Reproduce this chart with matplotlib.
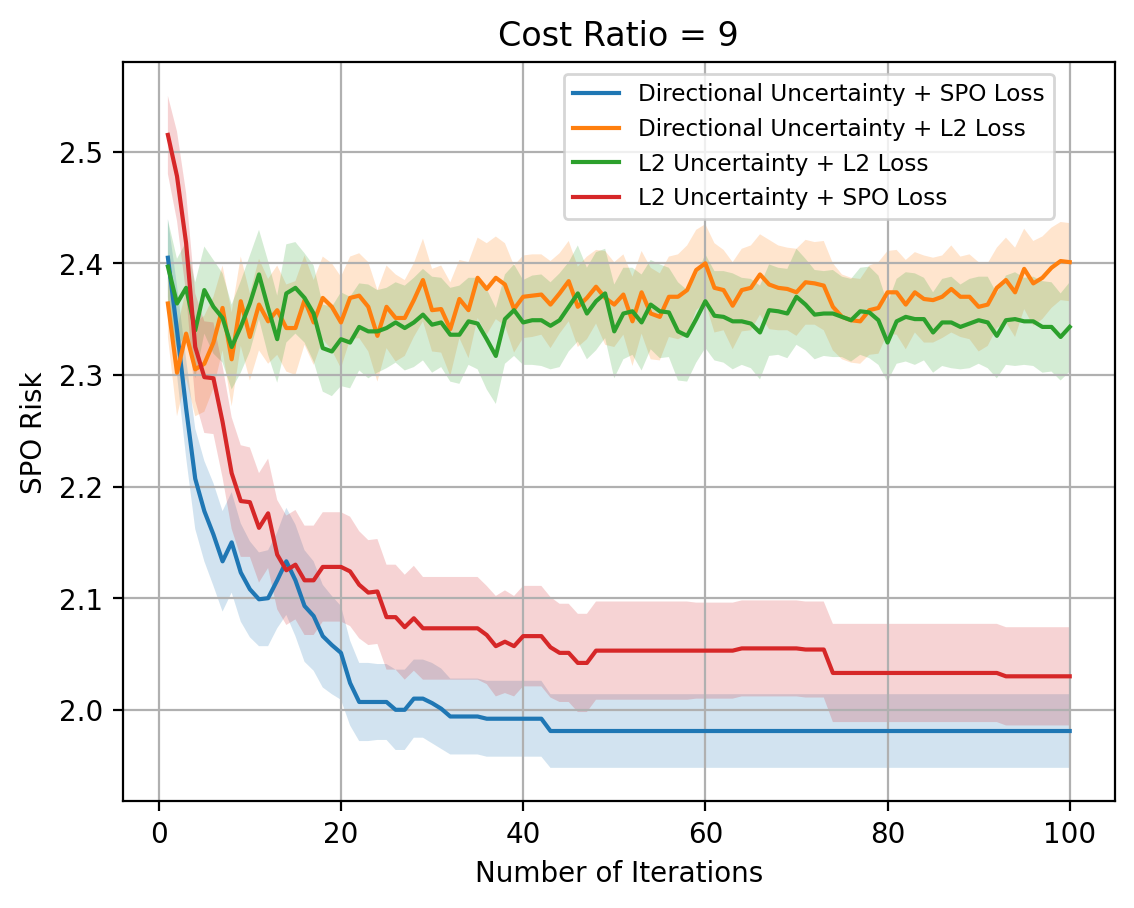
import numpy as np
import matplotlib
matplotlib.use('Agg')
import matplotlib.pyplot as plt

# Iteration numbers
iterations = np.arange(1, 101)

# Directional Uncertainty + SPO Loss
dir_spo_mean = [
    2.405, 2.340, 2.270, 2.207, 2.178, 2.157, 2.133, 2.150, 2.123, 2.108,
    2.099, 2.100, 2.116, 2.133, 2.116, 2.093, 2.084, 2.066, 2.058, 2.051,
    2.024, 2.007, 2.007, 2.007, 2.007, 2.000, 2.000, 2.010, 2.010, 2.006,
    2.001, 1.994, 1.994, 1.994, 1.994, 1.992, 1.992, 1.992, 1.992, 1.992,
    1.992, 1.992, 1.981, 1.981, 1.981, 1.981, 1.981, 1.981, 1.981, 1.981,
    1.981, 1.981, 1.981, 1.981, 1.981, 1.981, 1.981, 1.981, 1.981, 1.981,
    1.981, 1.981, 1.981, 1.981, 1.981, 1.981, 1.981, 1.981, 1.981, 1.981,
    1.981, 1.981, 1.981, 1.981, 1.981, 1.981, 1.981, 1.981, 1.981, 1.981,
    1.981, 1.981, 1.981, 1.981, 1.981, 1.981, 1.981, 1.981, 1.981, 1.981,
    1.981, 1.981, 1.981, 1.981, 1.981, 1.981, 1.981, 1.981, 1.981, 1.981,
]
dir_spo_std = [
    0.035, 0.040, 0.044, 0.045, 0.045, 0.046, 0.045, 0.045, 0.044, 0.043,
    0.042, 0.043, 0.043, 0.048, 0.050, 0.050, 0.049, 0.046, 0.044, 0.042,
    0.038, 0.035, 0.035, 0.034, 0.034, 0.036, 0.036, 0.035, 0.035, 0.036,
    0.036, 0.034, 0.034, 0.034, 0.034, 0.034, 0.034, 0.034, 0.034, 0.034,
    0.034, 0.034, 0.033, 0.033, 0.033, 0.033, 0.033, 0.033, 0.033, 0.033,
    0.033, 0.033, 0.033, 0.033, 0.033, 0.033, 0.033, 0.033, 0.033, 0.033,
    0.033, 0.033, 0.033, 0.033, 0.033, 0.033, 0.033, 0.033, 0.033, 0.033,
    0.033, 0.033, 0.033, 0.033, 0.033, 0.033, 0.033, 0.033, 0.033, 0.033,
    0.033, 0.033, 0.033, 0.033, 0.033, 0.033, 0.033, 0.033, 0.033, 0.033,
    0.033, 0.033, 0.033, 0.033, 0.033, 0.033, 0.033, 0.033, 0.033, 0.033,
]

# Directional Uncertainty + L2 Loss
dir_l2_mean = [
    2.364, 2.302, 2.337, 2.305, 2.310, 2.329, 2.360, 2.314, 2.366, 2.334,
    2.363, 2.348, 2.358, 2.342, 2.342, 2.367, 2.347, 2.369, 2.361, 2.347,
    2.369, 2.371, 2.361, 2.335, 2.361, 2.351, 2.351, 2.367, 2.385, 2.358,
    2.359, 2.341, 2.368, 2.358, 2.387, 2.377, 2.387, 2.381, 2.359, 2.370,
    2.371, 2.372, 2.363, 2.373, 2.384, 2.361, 2.369, 2.379, 2.369, 2.363,
    2.372, 2.348, 2.374, 2.355, 2.352, 2.370, 2.370, 2.376, 2.394, 2.400,
    2.378, 2.376, 2.362, 2.376, 2.378, 2.390, 2.381, 2.378, 2.377, 2.374,
    2.383, 2.382, 2.380, 2.361, 2.352, 2.349, 2.348, 2.358, 2.360, 2.374,
    2.374, 2.363, 2.374, 2.368, 2.367, 2.370, 2.377, 2.370, 2.370, 2.361,
    2.363, 2.378, 2.385, 2.374, 2.395, 2.382, 2.387, 2.396, 2.402, 2.401,
]
dir_l2_std = [
    0.030, 0.039, 0.040, 0.042, 0.043, 0.041, 0.038, 0.042, 0.040, 0.039,
    0.041, 0.038, 0.040, 0.039, 0.042, 0.040, 0.038, 0.037, 0.039, 0.041,
    0.037, 0.038, 0.040, 0.041, 0.037, 0.039, 0.034, 0.033, 0.037, 0.037,
    0.039, 0.042, 0.035, 0.043, 0.036, 0.041, 0.037, 0.037, 0.039, 0.037,
    0.037, 0.036, 0.039, 0.036, 0.036, 0.036, 0.037, 0.033, 0.042, 0.038,
    0.036, 0.040, 0.037, 0.041, 0.039, 0.036, 0.038, 0.040, 0.036, 0.035,
    0.040, 0.036, 0.039, 0.037, 0.038, 0.036, 0.040, 0.038, 0.037, 0.039,
    0.038, 0.037, 0.040, 0.039, 0.038, 0.038, 0.038, 0.040, 0.041, 0.037,
    0.038, 0.040, 0.036, 0.039, 0.038, 0.037, 0.039, 0.036, 0.038, 0.040,
    0.037, 0.036, 0.038, 0.040, 0.036, 0.038, 0.037, 0.036, 0.035, 0.035,
]

# L2 Uncertainty + L2 Loss
l2_l2_mean = [
    2.397, 2.364, 2.378, 2.340, 2.376, 2.361, 2.351, 2.325, 2.343, 2.364,
    2.390, 2.360, 2.332, 2.373, 2.378, 2.369, 2.355, 2.324, 2.321, 2.332,
    2.329, 2.343, 2.339, 2.339, 2.342, 2.347, 2.342, 2.347, 2.354, 2.345,
    2.347, 2.336, 2.336, 2.348, 2.346, 2.332, 2.317, 2.350, 2.358, 2.347,
    2.349, 2.349, 2.344, 2.349, 2.361, 2.373, 2.355, 2.366, 2.373, 2.339,
    2.355, 2.357, 2.347, 2.363, 2.357, 2.356, 2.339, 2.335, 2.350, 2.366,
    2.353, 2.352, 2.348, 2.348, 2.346, 2.338, 2.358, 2.357, 2.355, 2.370,
    2.363, 2.354, 2.355, 2.355, 2.352, 2.349, 2.357, 2.356, 2.349, 2.329,
    2.348, 2.352, 2.350, 2.350, 2.338, 2.347, 2.347, 2.343, 2.346, 2.349,
    2.347, 2.335, 2.349, 2.350, 2.348, 2.348, 2.343, 2.343, 2.334, 2.343,
]
l2_l2_std = [
    0.042, 0.040, 0.041, 0.043, 0.039, 0.042, 0.040, 0.038, 0.041, 0.043,
    0.040, 0.042, 0.039, 0.044, 0.041, 0.040, 0.043, 0.039, 0.040, 0.042,
    0.041, 0.039, 0.042, 0.037, 0.036, 0.036, 0.038, 0.040, 0.041, 0.043,
    0.040, 0.042, 0.044, 0.039, 0.041, 0.045, 0.043, 0.040, 0.041, 0.038,
    0.040, 0.041, 0.039, 0.042, 0.040, 0.043, 0.041, 0.044, 0.040, 0.042,
    0.041, 0.039, 0.043, 0.040, 0.042, 0.040, 0.044, 0.041, 0.039, 0.042,
    0.040, 0.041, 0.043, 0.039, 0.040, 0.042, 0.041, 0.039, 0.040, 0.043,
    0.041, 0.040, 0.038, 0.039, 0.036, 0.037, 0.039, 0.041, 0.040, 0.035,
    0.038, 0.040, 0.041, 0.037, 0.036, 0.039, 0.041, 0.038, 0.040, 0.039,
    0.041, 0.038, 0.040, 0.042, 0.039, 0.040, 0.041, 0.040, 0.039, 0.040,
]

# L2 Uncertainty + SPO Loss
l2_spo_mean = [
    2.515, 2.478, 2.418, 2.325, 2.298, 2.297, 2.258, 2.212, 2.187, 2.186,
    2.163, 2.176, 2.139, 2.125, 2.130, 2.116, 2.116, 2.128, 2.128, 2.128,
    2.124, 2.112, 2.105, 2.106, 2.083, 2.083, 2.074, 2.082, 2.073, 2.073,
    2.073, 2.073, 2.073, 2.073, 2.073, 2.067, 2.057, 2.061, 2.057, 2.066,
    2.066, 2.066, 2.056, 2.051, 2.051, 2.042, 2.042, 2.053, 2.053, 2.053,
    2.053, 2.053, 2.053, 2.053, 2.053, 2.053, 2.053, 2.053, 2.053, 2.053,
    2.053, 2.053, 2.053, 2.055, 2.055, 2.055, 2.055, 2.055, 2.055, 2.055,
    2.054, 2.054, 2.054, 2.033, 2.033, 2.033, 2.033, 2.033, 2.033, 2.033,
    2.033, 2.033, 2.033, 2.033, 2.033, 2.033, 2.033, 2.033, 2.033, 2.033,
    2.033, 2.033, 2.030, 2.030, 2.030, 2.030, 2.030, 2.030, 2.030, 2.030,
]
l2_spo_std = [
    0.035, 0.040, 0.045, 0.048, 0.050, 0.050, 0.050, 0.050, 0.050, 0.049,
    0.049, 0.049, 0.049, 0.049, 0.049, 0.049, 0.049, 0.049, 0.049, 0.049,
    0.049, 0.048, 0.047, 0.047, 0.047, 0.047, 0.047, 0.047, 0.046, 0.046,
    0.046, 0.046, 0.046, 0.046, 0.046, 0.044, 0.045, 0.046, 0.045, 0.045,
    0.045, 0.045, 0.045, 0.044, 0.044, 0.044, 0.044, 0.044, 0.044, 0.044,
    0.044, 0.044, 0.044, 0.044, 0.044, 0.044, 0.044, 0.044, 0.043, 0.043,
    0.043, 0.043, 0.043, 0.043, 0.043, 0.043, 0.043, 0.043, 0.043, 0.043,
    0.043, 0.043, 0.043, 0.044, 0.044, 0.044, 0.044, 0.044, 0.044, 0.044,
    0.044, 0.044, 0.044, 0.044, 0.044, 0.044, 0.044, 0.044, 0.044, 0.044,
    0.044, 0.044, 0.044, 0.044, 0.044, 0.044, 0.044, 0.044, 0.044, 0.044,
]

series = [
    ('Directional Uncertainty + SPO Loss', dir_spo_mean, dir_spo_std),
    ('Directional Uncertainty + L2 Loss', dir_l2_mean, dir_l2_std),
    ('L2 Uncertainty + L2 Loss', l2_l2_mean, l2_l2_std),
    ('L2 Uncertainty + SPO Loss', l2_spo_mean, l2_spo_std),
]

plt.figure(figsize=(6.4, 4.8))
for label, mean, std in series:
    mean = np.array(mean)
    std = np.array(std)
    plt.plot(iterations, mean, label=label)
    plt.fill_between(iterations, mean - std, mean + std, alpha=0.2)

plt.title('Cost Ratio = 9')
plt.xlabel('Number of Iterations')
plt.ylabel('SPO Risk')
plt.legend(fontsize='small', loc='upper right', bbox_to_anchor=(0.95, 1))
plt.grid(True)

plt.savefig('out.png', dpi=200, bbox_inches='tight')
